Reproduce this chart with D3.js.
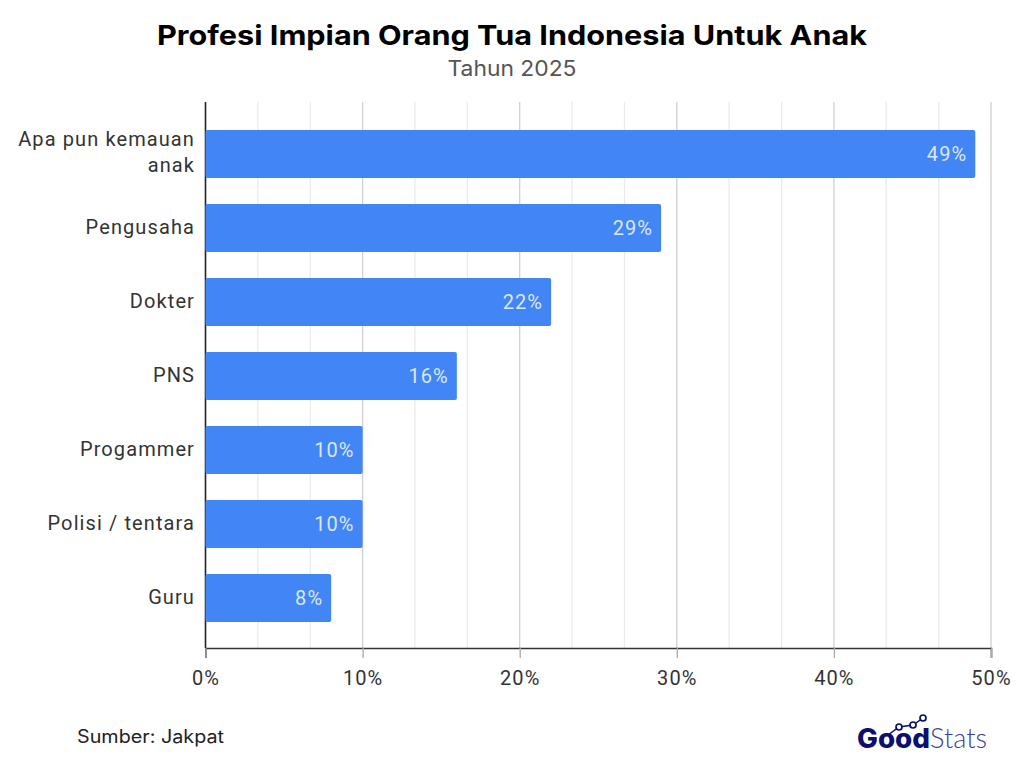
<!DOCTYPE html>
<html>
<head>
<meta charset="utf-8">
<script src="https://cdnjs.cloudflare.com/ajax/libs/d3/7.8.5/d3.min.js"></script>
<style>
  html, body { margin: 0; padding: 0; background: #fff; }
  svg { display: block; }
</style>
</head>
<body>
<div id="plot"></div>
<script>
// values
const categories = ["Apa pun kemauan anak", "Pengusaha", "Dokter", "PNS", "Progammer", "Polisi / tentara", "Guru"];
const values = [49, 29, 22, 16, 10, 10, 8];
const xTicks = [0, 10, 20, 30, 40, 50];
const minorTicks = [3.33, 6.67, 13.33, 16.67, 23.33, 26.67, 33.33, 36.67, 43.33, 46.67];

const svg = d3.select("div#plot")
  .append("svg")
  .attr("width", 1024)
  .attr("height", 768);

const labelFont = "Roboto, sans-serif";
const headFont = "Inter, 'Open Sans', sans-serif";
const labelSpacing = "1.1px";

const xScale = d3.scaleLinear().domain([0, 50]).range([205.5, 991]);
const yScale = d3.scaleBand().domain(categories).range([117, 635]).paddingInner(0.35).paddingOuter(0.175);

// title
svg.append("text")
  .attr("x", 512).attr("y", 45)
  .attr("text-anchor", "middle")
  .style("font-family", headFont)
  .style("font-weight", 700)
  .style("font-size", "27.5px")
  .attr("textLength", 710)
  .attr("lengthAdjust", "spacingAndGlyphs")
  .attr("fill", "#000")
  .text("Profesi Impian Orang Tua Indonesia Untuk Anak");

svg.append("text")
  .attr("x", 512).attr("y", 76)
  .attr("text-anchor", "middle")
  .style("font-family", headFont)
  .style("font-size", "21px")
  .attr("textLength", 129)
  .attr("lengthAdjust", "spacingAndGlyphs")
  .attr("fill", "#555")
  .text("Tahun 2025");

// gridlines
svg.append("g").selectAll("line")
  .data(minorTicks)
  .enter().append("line")
  .attr("x1", d => xScale(d)).attr("x2", d => xScale(d))
  .attr("y1", 102).attr("y2", 648)
  .attr("stroke", "#e9ebf1").attr("stroke-width", 1.3);

svg.append("g").selectAll("line")
  .data(xTicks.slice(1))
  .enter().append("line")
  .attr("x1", d => xScale(d)).attr("x2", d => xScale(d))
  .attr("y1", 102).attr("y2", 648)
  .attr("stroke", "#cdd0d6").attr("stroke-width", 1.3);

// left axis line
svg.append("line")
  .attr("x1", xScale(0)).attr("x2", xScale(0))
  .attr("y1", 102).attr("y2", 648)
  .attr("stroke", "#222").attr("stroke-width", 1.6);

// bars
svg.append("g").selectAll("rect")
  .data(values)
  .enter().append("rect")
  .attr("x", xScale(0))
  .attr("y", (d, i) => yScale(categories[i]))
  .attr("width", d => xScale(d) - xScale(0))
  .attr("height", yScale.bandwidth())
  .attr("rx", 2)
  .attr("fill", "#4285f4");

// value labels
svg.append("g").selectAll("text")
  .data(values)
  .enter().append("text")
  .attr("x", d => xScale(d) - 8)
  .attr("y", (d, i) => yScale(categories[i]) + yScale.bandwidth() / 2)
  .attr("dy", "0.36em")
  .attr("text-anchor", "end")
  .style("font-family", labelFont)
  .style("font-size", "20px")
  .style("letter-spacing", labelSpacing)
  .attr("fill", "#dbe7fc")
  .text(d => d + "%");

// x axis
const xAxis = svg.append("g")
  .attr("transform", "translate(0,648)")
  .call(d3.axisBottom(xScale).tickValues(xTicks).tickFormat(d => d + "%").tickSize(10).tickPadding(13));
xAxis.select(".domain").attr("stroke", "#333").attr("stroke-width", 1.6);
xAxis.selectAll(".tick line").attr("stroke", "#aaa").attr("stroke-width", 1.3);
xAxis.selectAll(".tick text")
  .style("font-family", labelFont)
  .style("font-size", "20px")
  .style("letter-spacing", labelSpacing)
  .attr("fill", "#333");

// category labels, the long one wraps on two lines
const catLabels = svg.append("g").selectAll("text")
  .data(categories)
  .enter().append("text")
  .attr("text-anchor", "end")
  .style("font-family", labelFont)
  .style("font-size", "20px")
  .style("letter-spacing", labelSpacing)
  .attr("fill", "#333")
  .attr("y", d => yScale(d) + yScale.bandwidth() / 2);

catLabels.each(function (d) {
  const lines = d.length > 18 ? ["Apa pun kemauan", "anak"] : [d];
  const el = d3.select(this);
  lines.forEach((t, i) => {
    el.append("tspan")
      .attr("x", 195)
      .attr("dy", i === 0 ? (lines.length > 1 ? "-0.38em" : "0.3em") : "1.27em")
      .text(t);
  });
});

// source
svg.append("text")
  .attr("x", 77).attr("y", 743)
  .style("font-family", headFont)
  .style("font-size", "18px")
  .attr("textLength", 147)
  .attr("lengthAdjust", "spacingAndGlyphs")
  .attr("fill", "#222")
  .text("Sumber: Jakpat");

// logo
const logo = svg.append("g");
logo.append("text")
  .attr("x", 857).attr("y", 748)
  .style("font-family", headFont)
  .style("font-weight", 800)
  .style("font-size", "27px")
  .attr("textLength", 73)
  .attr("lengthAdjust", "spacingAndGlyphs")
  .attr("fill", "#0b0f6e")
  .text("Good");
logo.append("text")
  .attr("x", 930).attr("y", 748)
  .style("font-family", "Lato, sans-serif")
  .style("font-weight", 300)
  .style("font-size", "27px")
  .attr("textLength", 57)
  .attr("lengthAdjust", "spacingAndGlyphs")
  .attr("fill", "#3d4199")
  .text("Stats");
logo.append("path")
  .attr("d", "M888 735L899 727L913 725L923 718")
  .attr("fill", "none").attr("stroke", "#0b0f6e").attr("stroke-width", 1.5);
[[899, 727], [913, 725], [923, 718]].forEach(p => {
  logo.append("circle")
    .attr("cx", p[0]).attr("cy", p[1]).attr("r", 3)
    .attr("fill", "#fff").attr("stroke", "#0b0f6e").attr("stroke-width", 1.7);
});
</script>
</body>
</html>
